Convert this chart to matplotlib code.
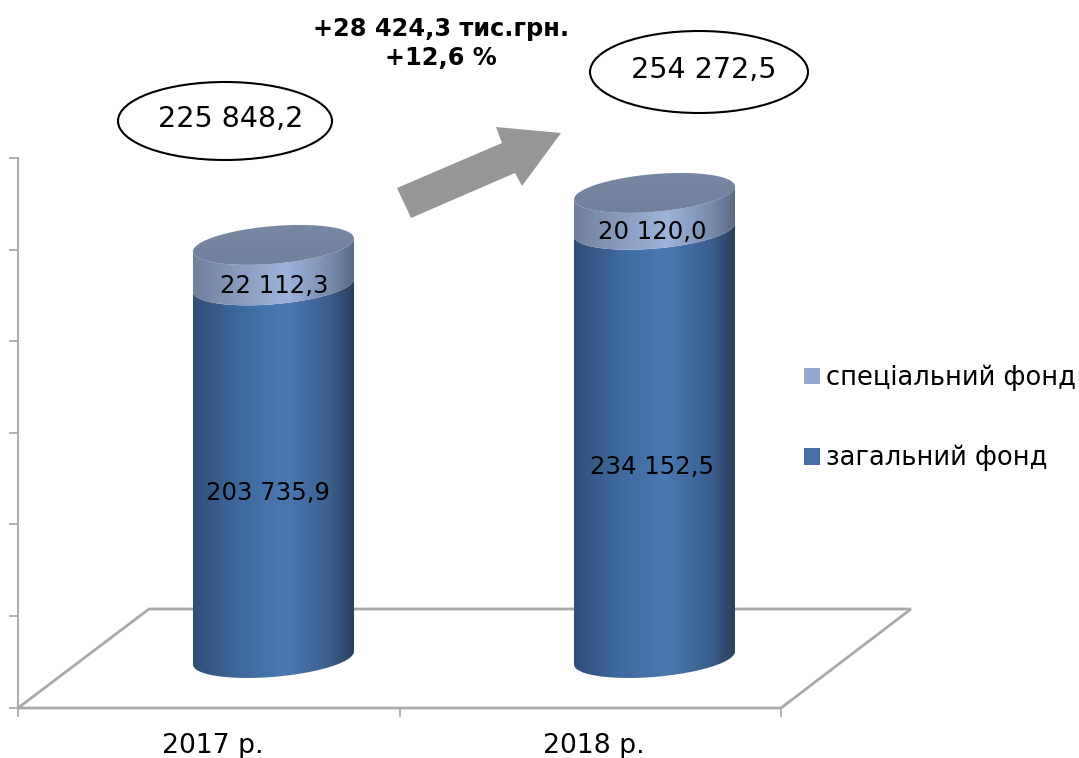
"""Stacked cylinder chart of the budget funds, 2017 and 2018."""

import matplotlib
matplotlib.use("Agg")
import matplotlib.pyplot as plt
import numpy as np
from matplotlib.colors import LinearSegmentedColormap
from matplotlib.patches import Ellipse, Patch, PathPatch, Polygon
from matplotlib.path import Path

years = ["2017 р.", "2018 р."]
general_fund = [203735.9, 234152.5]
special_fund = [22112.3, 20120.0]
totals = [225848.2, 254272.5]
legend_labels = ["спеціальний фонд", "загальний фонд"]
change_lines = ["+28 424,3 тис.грн.", "+12,6 %"]

W, H = 1079, 758
PX_PER_UNIT = 1.829 / 1000  # pixels per hryvnia thousand on the value axis
BASE_Y = 658
BAR_X0, BAR_STEP = 273.5, 381

GENERAL_CMAP = LinearSegmentedColormap.from_list(
    "general", [(0, "#2f4e78"), (0.3, "#3f6b9f"), (0.58, "#4a78b0"),
                (0.85, "#3a5f8e"), (1, "#2a3f5c")])
SPECIAL_CMAP = LinearSegmentedColormap.from_list(
    "special", [(0, "#717f9e"), (0.3, "#8a9dc0"), (0.58, "#9db3da"),
                (0.85, "#788cae"), (1, "#5a6a85")])
TOP_CMAP = LinearSegmentedColormap.from_list(
    "top", [(0, "#6f80a0"), (0.5, "#74849f"), (1, "#7a8aa6")])

fig = plt.figure(figsize=(W / 100, H / 100), dpi=100)
plt.rcParams["font.family"] = ["DejaVu Sans"]

# pixel layer for the frame and the annotations
ax_px = fig.add_axes([0, 0, 1, 1], zorder=1)
ax_px.set_xlim(0, W)
ax_px.set_ylim(H, 0)
ax_px.axis("off")

# value layer for the cylinders
ax = fig.add_axes([0, 0, 1, 1], zorder=2)
ax.patch.set_alpha(0)
ax.axis("off")
X_LIM = (-BAR_X0 / BAR_STEP, (W - BAR_X0) / BAR_STEP)
Y_LIM = (-(H - BASE_Y) / PX_PER_UNIT, BASE_Y / PX_PER_UNIT)

HALF_W = 80.5 / BAR_STEP
TILT = 6.5 / PX_PER_UNIT
DEPTH = 18.9 / PX_PER_UNIT


def rim(x, y, t):
    """Points on the tilted elliptical rim of a cylinder."""
    return np.column_stack([x + HALF_W * np.cos(t), y + TILT * np.cos(t) + DEPTH * np.sin(t)])


def draw_segment(x, y0, y1, cmap, z):
    """Draw one gradient-filled cylinder section from value y0 to y1."""
    t = np.linspace(np.pi, 2 * np.pi, 80)
    verts = np.vstack([rim(x, y0, t), rim(x, y1, t[::-1])])
    clip = PathPatch(Path(verts, closed=False), transform=ax.transData, fc="none", ec="none")
    ax.add_patch(clip)
    img = ax.imshow(np.linspace(0, 1, 256)[None, :], cmap=cmap, aspect="auto", zorder=z,
                    extent=[x - HALF_W, x + HALF_W, y0 - DEPTH * 1.5, y1 + DEPTH * 1.5])
    img.set_clip_path(clip)


def draw_top(x, y, z):
    """Draw the closing ellipse on top of a cylinder."""
    verts = rim(x, y, np.linspace(0, 2 * np.pi, 160))
    clip = PathPatch(Path(verts), transform=ax.transData, fc="none", ec="none")
    ax.add_patch(clip)
    img = ax.imshow(np.linspace(1, 0, 64)[:, None], cmap=TOP_CMAP, aspect="auto", zorder=z,
                    extent=[x - HALF_W, x + HALF_W, y - DEPTH * 1.5, y + DEPTH * 1.5])
    img.set_clip_path(clip)


def money(value):
    """Format a number the way the source does: 225 848,2."""
    return f"{value:,.1f}".replace(",", " ").replace(".", ",")


# frame and floor
GRID = "#a9a9a9"
ax_px.plot([18, 18], [158, 708], color="#ababab", lw=1.4)
for tick_y in [158, 250, 341, 433, 524, 616, 708]:
    ax_px.plot([10, 18], [tick_y, tick_y], color="#ababab", lw=1.3)
for tick_x in [18, 400, 781]:
    ax_px.plot([tick_x, tick_x], [708, 716], color="#ababab", lw=1.3)
ax_px.add_patch(Polygon([(18, 708), (149, 609), (911, 609), (781, 708)], closed=True,
                        fc="white", ec=GRID, lw=2, joinstyle="miter"))

# cylinders
for i in range(len(years)):
    z = 2 + i
    draw_segment(i, 0, general_fund[i], GENERAL_CMAP, z)
    draw_segment(i, general_fund[i], totals[i], SPECIAL_CMAP, z + 0.1)
    draw_top(i, totals[i], z + 0.2)
ax.set_xlim(*X_LIM)
ax.set_ylim(*Y_LIM)

# labels sit above the cylinders, so they go on a top layer in pixels
ax_top = fig.add_axes([0, 0, 1, 1], zorder=3)
ax_top.patch.set_alpha(0)
ax_top.set_xlim(0, W)
ax_top.set_ylim(H, 0)
ax_top.axis("off")

label_fs = 17.6
for x_px, y_px, value in zip([274, 652], [286, 232], special_fund):
    ax_top.text(x_px, y_px, money(value), fontsize=label_fs, ha="center", va="center", color="black")
for x_px, y_px, value in zip([268, 652], [493, 467], general_fund):
    ax_top.text(x_px, y_px, money(value), fontsize=label_fs, ha="center", va="center", color="black")

for x_px, label in zip([213, 594], years):
    ax_top.text(x_px, 746, label, fontsize=19.2, ha="center", va="center", color="black")

# callouts with the totals
for (cx, cy, w, h), text_x, value in zip([(225, 121, 214, 78), (699, 72, 218, 82)], [230.5, 704], totals):
    ax_top.add_patch(Ellipse((cx, cy), w, h, fc="white", ec="black", lw=1.5))
    ax_top.text(text_x, cy - 2, money(value), fontsize=20.5, ha="center", va="center", color="black")

# growth arrow
ax_top.add_patch(Polygon([(397, 188), (411, 218), (515, 173), (522, 186), (561, 133),
                          (496, 127), (502, 143)], closed=True, fc="#969696", ec="none"))
for y_px, line in zip([29, 58], change_lines):
    ax_top.text(441, y_px, line, fontsize=17.3, fontweight="bold", ha="center", va="center", color="black")

# legend
handles = [Patch(fc="#95a9d0", ec="none"), Patch(fc="#4571a8", ec="none")]
ax_top.legend(handles, legend_labels, loc="center left", bbox_to_anchor=(804 / W, 1 - 418 / H),
              bbox_transform=fig.transFigure, frameon=False, fontsize=18.5, handlelength=0.62,
              handleheight=0.62, handletextpad=0.25, labelspacing=2.1, borderpad=0, borderaxespad=0)

fig.savefig("out.png", dpi=100)
